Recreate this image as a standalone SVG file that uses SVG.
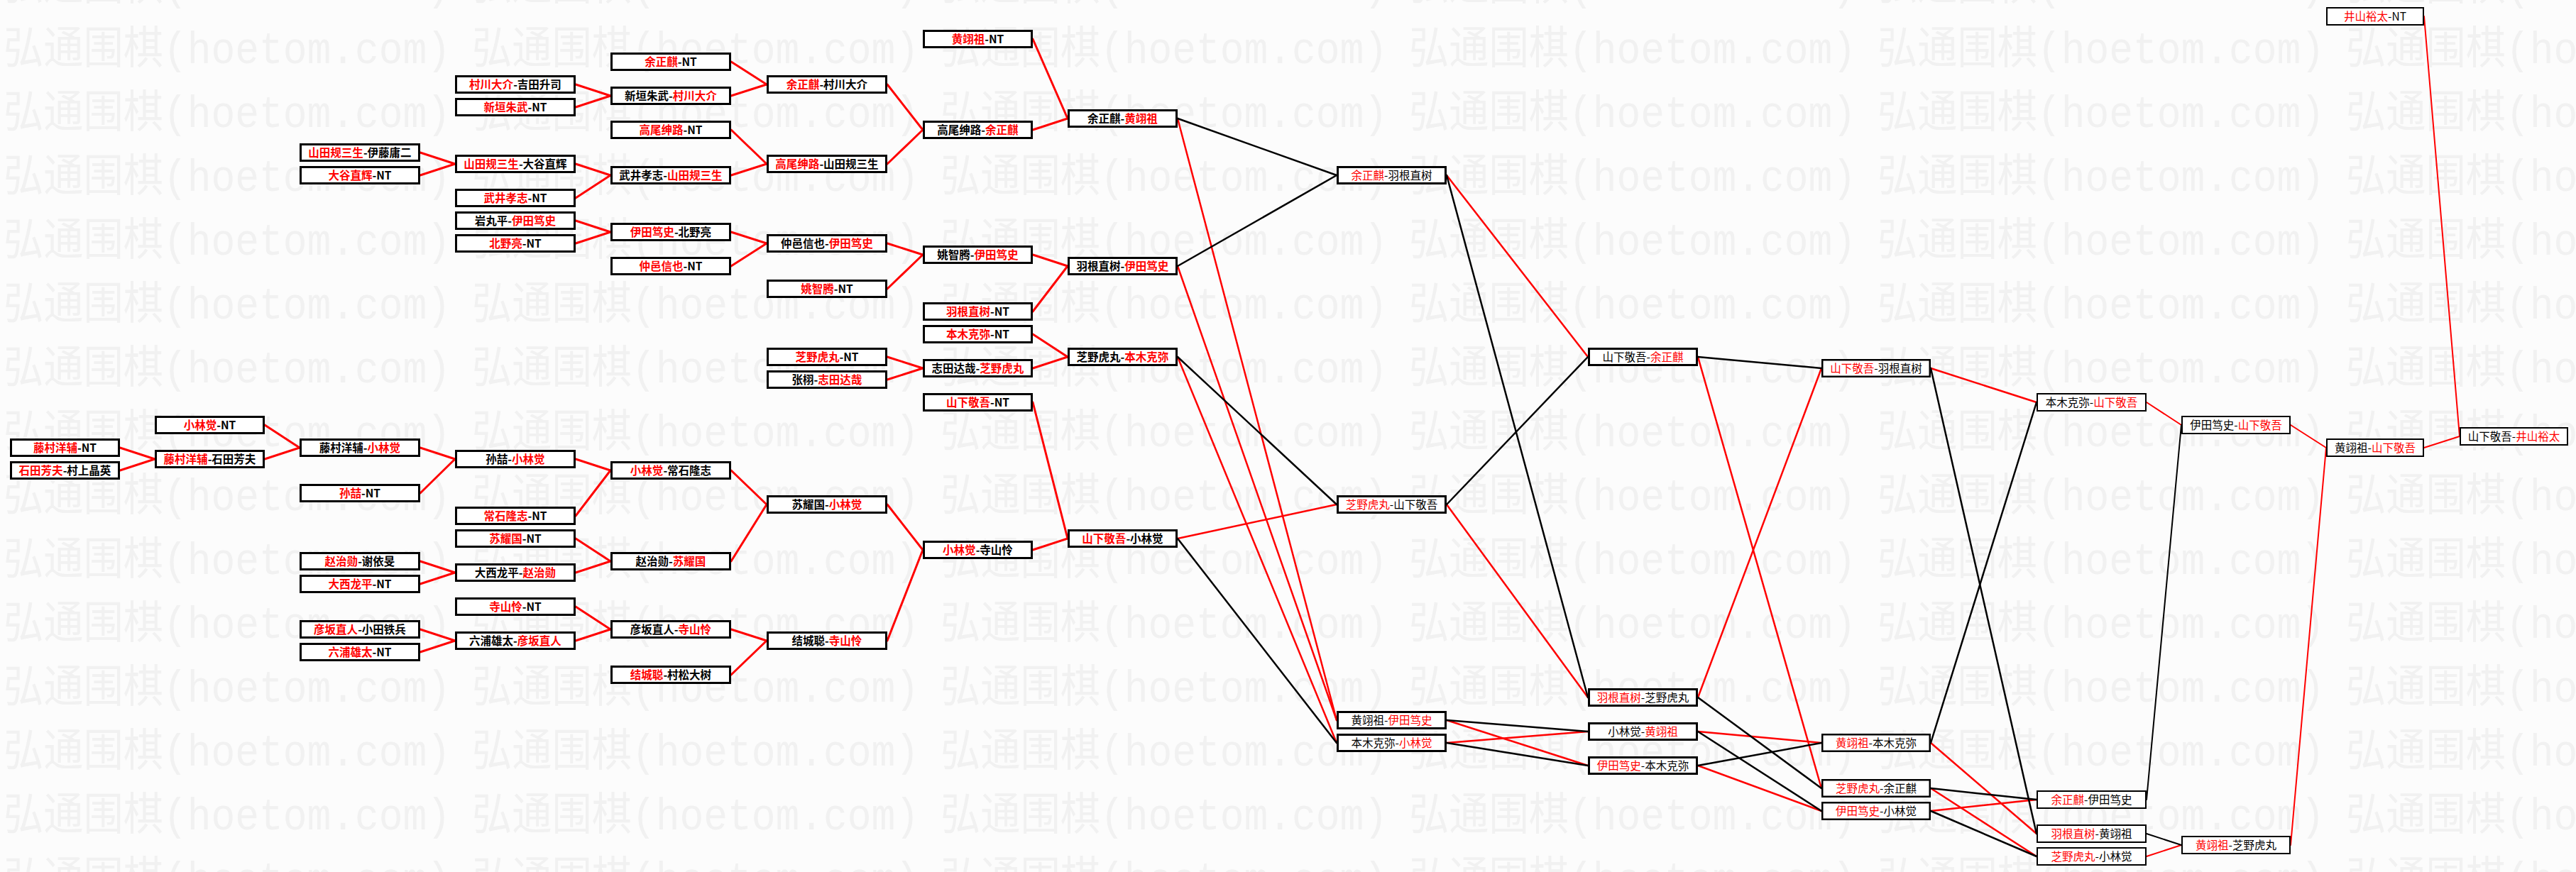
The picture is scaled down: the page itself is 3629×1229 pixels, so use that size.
<svg xmlns="http://www.w3.org/2000/svg" width="3629" height="1229" viewBox="0 0 3629 1229">
<style>
.bg{fill:#fcfcfc}
.wm{font-family:"Liberation Mono","Noto Sans CJK SC",monospace;font-size:63px;fill:#f1f1f1}
.n rect{fill:#fff;stroke:#000;stroke-width:3}
.n.m rect{stroke-width:2.5}
.n.s rect{stroke-width:2}
.n text{font-family:"Noto Sans CJK SC",sans-serif;font-size:15.5px;text-anchor:middle;fill:#000}
.n.b text{font-weight:bold}
.r{fill:#f00}
.c line{fill:none;stroke-linecap:round}
.cr line{stroke:#f00}
.ck line{stroke:#000}
.w3 line{stroke-width:3}
.w25 line{stroke-width:2.5}
.w2 line{stroke-width:2}
</style>
<defs>
<pattern id="wmp" patternUnits="userSpaceOnUse" x="5" y="20" width="660" height="90">
<text class="wm" x="0" y="69" textLength="630" lengthAdjust="spacingAndGlyphs">弘通围棋(hoetom.com)</text>
</pattern>
</defs>
<rect class="bg" x="0" y="0" width="3629" height="1229"/>
<rect x="0" y="0" width="3629" height="1229" fill="url(#wmp)"/>

<g id="connectors" class="c">
<g class="cr w3">
<line x1="169" y1="631" x2="218" y2="647"/>
<line x1="169" y1="663" x2="218" y2="647"/>
<line x1="373" y1="599" x2="422" y2="631"/>
<line x1="373" y1="647" x2="422" y2="631"/>
<line x1="592" y1="631" x2="641" y2="647"/>
<line x1="592" y1="695" x2="641" y2="647"/>
<line x1="811" y1="647" x2="860" y2="663"/>
<line x1="811" y1="727" x2="860" y2="663"/>
<line x1="1030" y1="663" x2="1080" y2="711"/>
<line x1="811" y1="759" x2="860" y2="791"/>
<line x1="592" y1="791" x2="641" y2="807"/>
<line x1="592" y1="823" x2="641" y2="807"/>
<line x1="811" y1="807" x2="860" y2="791"/>
<line x1="1030" y1="791" x2="1080" y2="711"/>
<line x1="811" y1="855" x2="860" y2="887"/>
<line x1="592" y1="887" x2="641" y2="903"/>
<line x1="592" y1="919" x2="641" y2="903"/>
<line x1="811" y1="903" x2="860" y2="887"/>
<line x1="1030" y1="887" x2="1080" y2="903"/>
<line x1="1030" y1="951" x2="1080" y2="903"/>
<line x1="1250" y1="711" x2="1300" y2="775"/>
<line x1="1250" y1="903" x2="1300" y2="775"/>
<line x1="1455" y1="775" x2="1504" y2="759"/>
<line x1="1455" y1="567" x2="1504" y2="759"/>
<line x1="811" y1="119" x2="860" y2="135"/>
<line x1="811" y1="151" x2="860" y2="135"/>
<line x1="1030" y1="87" x2="1080" y2="119"/>
<line x1="1030" y1="135" x2="1080" y2="119"/>
<line x1="592" y1="215" x2="641" y2="231"/>
<line x1="592" y1="247" x2="641" y2="231"/>
<line x1="811" y1="231" x2="860" y2="247"/>
<line x1="811" y1="279" x2="860" y2="247"/>
<line x1="1030" y1="183" x2="1080" y2="231"/>
<line x1="1030" y1="247" x2="1080" y2="231"/>
<line x1="1250" y1="119" x2="1300" y2="183"/>
<line x1="1250" y1="231" x2="1300" y2="183"/>
<line x1="1455" y1="55" x2="1504" y2="167"/>
<line x1="1455" y1="183" x2="1504" y2="167"/>
<line x1="811" y1="311" x2="860" y2="327"/>
<line x1="811" y1="343" x2="860" y2="327"/>
<line x1="1030" y1="327" x2="1080" y2="343"/>
<line x1="1030" y1="375" x2="1080" y2="343"/>
<line x1="1250" y1="343" x2="1300" y2="359"/>
<line x1="1250" y1="407" x2="1300" y2="359"/>
<line x1="1455" y1="359" x2="1504" y2="375"/>
<line x1="1455" y1="439" x2="1504" y2="375"/>
<line x1="1250" y1="503" x2="1300" y2="519"/>
<line x1="1250" y1="535" x2="1300" y2="519"/>
<line x1="1455" y1="471" x2="1504" y2="503"/>
<line x1="1455" y1="519" x2="1504" y2="503"/>
</g>
<g class="cr w25">
<line x1="1659" y1="167" x2="1883" y2="1015"/>
<line x1="1659" y1="375" x2="1883" y2="1015"/>
<line x1="1659" y1="503" x2="1883" y2="1047"/>
<line x1="1659" y1="759" x2="1883" y2="711"/>
<line x1="2038" y1="247" x2="2237" y2="503"/>
<line x1="2038" y1="711" x2="2237" y2="983"/>
<line x1="2038" y1="1015" x2="2237" y2="1079"/>
<line x1="2038" y1="1047" x2="2237" y2="1031"/>
<line x1="2392" y1="503" x2="2566" y2="1111"/>
<line x1="2392" y1="983" x2="2566" y2="519"/>
<line x1="2392" y1="1031" x2="2566" y2="1047"/>
<line x1="2392" y1="1079" x2="2566" y2="1143"/>
<line x1="2720" y1="519" x2="2869" y2="567"/>
<line x1="2720" y1="1047" x2="2869" y2="1175"/>
<line x1="2720" y1="1111" x2="2869" y2="1207"/>
<line x1="2720" y1="1143" x2="2869" y2="1127"/>
</g>
<g class="ck w25">
<line x1="1659" y1="167" x2="1883" y2="247"/>
<line x1="1659" y1="375" x2="1883" y2="247"/>
<line x1="1659" y1="503" x2="1883" y2="711"/>
<line x1="1659" y1="759" x2="1883" y2="1047"/>
<line x1="2038" y1="247" x2="2237" y2="983"/>
<line x1="2038" y1="711" x2="2237" y2="503"/>
<line x1="2038" y1="1015" x2="2237" y2="1031"/>
<line x1="2038" y1="1047" x2="2237" y2="1079"/>
<line x1="2392" y1="503" x2="2566" y2="519"/>
<line x1="2392" y1="983" x2="2566" y2="1111"/>
<line x1="2392" y1="1031" x2="2566" y2="1143"/>
<line x1="2392" y1="1079" x2="2566" y2="1047"/>
<line x1="2720" y1="519" x2="2869" y2="1175"/>
<line x1="2720" y1="1047" x2="2869" y2="567"/>
<line x1="2720" y1="1111" x2="2869" y2="1127"/>
<line x1="2720" y1="1143" x2="2869" y2="1207"/>
</g>
<g class="cr w2">
<line x1="3024" y1="567" x2="3073" y2="599"/>
<line x1="3024" y1="1207" x2="3073" y2="1191"/>
<line x1="3227" y1="599" x2="3277" y2="631"/>
<line x1="3227" y1="1191" x2="3277" y2="631"/>
<line x1="3415" y1="631" x2="3465" y2="615"/>
<line x1="3415" y1="23" x2="3465" y2="615"/>
</g>
<g class="ck w2">
<line x1="3024" y1="1127" x2="3073" y2="599"/>
<line x1="3024" y1="1175" x2="3073" y2="1191"/>
</g>
</g>

<!-- Column A -->
<g id="a1" class="n b"><rect x="15.5" y="619.5" width="152" height="23"/><text x="91.5" y="637"><tspan class="r">藤村洋辅</tspan>-NT</text></g>
<g id="a2" class="n b"><rect x="15.5" y="651.5" width="152" height="23"/><text x="91.5" y="669"><tspan class="r">石田芳夫</tspan>-村上晶英</text></g>
<!-- Column A2 -->
<g id="a3" class="n b"><rect x="219.5" y="587.5" width="152" height="23"/><text x="295.5" y="605"><tspan class="r">小林觉</tspan>-NT</text></g>
<g id="a4" class="n b"><rect x="219.5" y="635.5" width="152" height="23"/><text x="295.5" y="653"><tspan class="r">藤村洋辅</tspan>-石田芳夫</text></g>
<!-- Column B -->
<g id="b1" class="n b"><rect x="423.5" y="203.5" width="167" height="23"/><text x="507" y="221"><tspan class="r">山田规三生</tspan>-伊藤庸二</text></g>
<g id="b2" class="n b"><rect x="423.5" y="235.5" width="167" height="23"/><text x="507" y="253"><tspan class="r">大谷直辉</tspan>-NT</text></g>
<g id="b3" class="n b"><rect x="423.5" y="619.5" width="167" height="23"/><text x="507" y="637">藤村洋辅-<tspan class="r">小林觉</tspan></text></g>
<g id="b4" class="n b"><rect x="423.5" y="683.5" width="167" height="23"/><text x="507" y="701"><tspan class="r">孙喆</tspan>-NT</text></g>
<g id="b5" class="n b"><rect x="423.5" y="779.5" width="167" height="23"/><text x="507" y="797"><tspan class="r">赵治勋</tspan>-谢依旻</text></g>
<g id="b6" class="n b"><rect x="423.5" y="811.5" width="167" height="23"/><text x="507" y="829"><tspan class="r">大西龙平</tspan>-NT</text></g>
<g id="b7" class="n b"><rect x="423.5" y="875.5" width="167" height="23"/><text x="507" y="893"><tspan class="r">彦坂直人</tspan>-小田铁兵</text></g>
<g id="b8" class="n b"><rect x="423.5" y="907.5" width="167" height="23"/><text x="507" y="925"><tspan class="r">六浦雄太</tspan>-NT</text></g>
<!-- Column C -->
<g id="c1" class="n b"><rect x="642.5" y="107.5" width="167" height="23"/><text x="726" y="125"><tspan class="r">村川大介</tspan>-吉田升司</text></g>
<g id="c2" class="n b"><rect x="642.5" y="139.5" width="167" height="23"/><text x="726" y="157"><tspan class="r">新垣朱武</tspan>-NT</text></g>
<g id="c3" class="n b"><rect x="642.5" y="219.5" width="167" height="23"/><text x="726" y="237"><tspan class="r">山田规三生</tspan>-大谷直辉</text></g>
<g id="c4" class="n b"><rect x="642.5" y="267.5" width="167" height="23"/><text x="726" y="285"><tspan class="r">武井孝志</tspan>-NT</text></g>
<g id="c5" class="n b"><rect x="642.5" y="299.5" width="167" height="23"/><text x="726" y="317">岩丸平-<tspan class="r">伊田笃史</tspan></text></g>
<g id="c6" class="n b"><rect x="642.5" y="331.5" width="167" height="23"/><text x="726" y="349"><tspan class="r">北野亮</tspan>-NT</text></g>
<g id="c7" class="n b"><rect x="642.5" y="635.5" width="167" height="23"/><text x="726" y="653">孙喆-<tspan class="r">小林觉</tspan></text></g>
<g id="c8" class="n b"><rect x="642.5" y="715.5" width="167" height="23"/><text x="726" y="733"><tspan class="r">常石隆志</tspan>-NT</text></g>
<g id="c9" class="n b"><rect x="642.5" y="747.5" width="167" height="23"/><text x="726" y="765"><tspan class="r">苏耀国</tspan>-NT</text></g>
<g id="c10" class="n b"><rect x="642.5" y="795.5" width="167" height="23"/><text x="726" y="813">大西龙平-<tspan class="r">赵治勋</tspan></text></g>
<g id="c11" class="n b"><rect x="642.5" y="843.5" width="167" height="23"/><text x="726" y="861"><tspan class="r">寺山怜</tspan>-NT</text></g>
<g id="c12" class="n b"><rect x="642.5" y="891.5" width="167" height="23"/><text x="726" y="909">六浦雄太-<tspan class="r">彦坂直人</tspan></text></g>
<!-- Column D -->
<g id="d1" class="n b"><rect x="861.5" y="75.5" width="167" height="23"/><text x="945" y="93"><tspan class="r">余正麒</tspan>-NT</text></g>
<g id="d2" class="n b"><rect x="861.5" y="123.5" width="167" height="23"/><text x="945" y="141">新垣朱武-<tspan class="r">村川大介</tspan></text></g>
<g id="d3" class="n b"><rect x="861.5" y="171.5" width="167" height="23"/><text x="945" y="189"><tspan class="r">高尾绅路</tspan>-NT</text></g>
<g id="d4" class="n b"><rect x="861.5" y="235.5" width="167" height="23"/><text x="945" y="253">武井孝志-<tspan class="r">山田规三生</tspan></text></g>
<g id="d5" class="n b"><rect x="861.5" y="315.5" width="167" height="23"/><text x="945" y="333"><tspan class="r">伊田笃史</tspan>-北野亮</text></g>
<g id="d6" class="n b"><rect x="861.5" y="363.5" width="167" height="23"/><text x="945" y="381"><tspan class="r">仲邑信也</tspan>-NT</text></g>
<g id="d7" class="n b"><rect x="861.5" y="651.5" width="167" height="23"/><text x="945" y="669"><tspan class="r">小林觉</tspan>-常石隆志</text></g>
<g id="d8" class="n b"><rect x="861.5" y="779.5" width="167" height="23"/><text x="945" y="797">赵治勋-<tspan class="r">苏耀国</tspan></text></g>
<g id="d9" class="n b"><rect x="861.5" y="875.5" width="167" height="23"/><text x="945" y="893">彦坂直人-<tspan class="r">寺山怜</tspan></text></g>
<g id="d10" class="n b"><rect x="861.5" y="939.5" width="167" height="23"/><text x="945" y="957"><tspan class="r">结城聪</tspan>-村松大树</text></g>
<!-- Column E -->
<g id="e1" class="n b"><rect x="1081.5" y="107.5" width="167" height="23"/><text x="1165" y="125"><tspan class="r">余正麒</tspan>-村川大介</text></g>
<g id="e2" class="n b"><rect x="1081.5" y="219.5" width="167" height="23"/><text x="1165" y="237"><tspan class="r">高尾绅路</tspan>-山田规三生</text></g>
<g id="e3" class="n b"><rect x="1081.5" y="331.5" width="167" height="23"/><text x="1165" y="349">仲邑信也-<tspan class="r">伊田笃史</tspan></text></g>
<g id="e4" class="n b"><rect x="1081.5" y="395.5" width="167" height="23"/><text x="1165" y="413"><tspan class="r">姚智腾</tspan>-NT</text></g>
<g id="e5" class="n b"><rect x="1081.5" y="491.5" width="167" height="23"/><text x="1165" y="509"><tspan class="r">芝野虎丸</tspan>-NT</text></g>
<g id="e6" class="n b"><rect x="1081.5" y="523.5" width="167" height="23"/><text x="1165" y="541">张栩-<tspan class="r">志田达哉</tspan></text></g>
<g id="e7" class="n b"><rect x="1081.5" y="699.5" width="167" height="23"/><text x="1165" y="717">苏耀国-<tspan class="r">小林觉</tspan></text></g>
<g id="e8" class="n b"><rect x="1081.5" y="891.5" width="167" height="23"/><text x="1165" y="909">结城聪-<tspan class="r">寺山怜</tspan></text></g>
<!-- Column F -->
<g id="f1" class="n b"><rect x="1301.5" y="43.5" width="152" height="23"/><text x="1377.5" y="61"><tspan class="r">黄翊祖</tspan>-NT</text></g>
<g id="f2" class="n b"><rect x="1301.5" y="171.5" width="152" height="23"/><text x="1377.5" y="189">高尾绅路-<tspan class="r">余正麒</tspan></text></g>
<g id="f3" class="n b"><rect x="1301.5" y="347.5" width="152" height="23"/><text x="1377.5" y="365">姚智腾-<tspan class="r">伊田笃史</tspan></text></g>
<g id="f4" class="n b"><rect x="1301.5" y="427.5" width="152" height="23"/><text x="1377.5" y="445"><tspan class="r">羽根直树</tspan>-NT</text></g>
<g id="f5" class="n b"><rect x="1301.5" y="459.5" width="152" height="23"/><text x="1377.5" y="477"><tspan class="r">本木克弥</tspan>-NT</text></g>
<g id="f6" class="n b"><rect x="1301.5" y="507.5" width="152" height="23"/><text x="1377.5" y="525">志田达哉-<tspan class="r">芝野虎丸</tspan></text></g>
<g id="f7" class="n b"><rect x="1301.5" y="555.5" width="152" height="23"/><text x="1377.5" y="573"><tspan class="r">山下敬吾</tspan>-NT</text></g>
<g id="f8" class="n b"><rect x="1301.5" y="763.5" width="152" height="23"/><text x="1377.5" y="781"><tspan class="r">小林觉</tspan>-寺山怜</text></g>
<!-- Column G -->
<g id="g1" class="n b"><rect x="1505.5" y="155.5" width="152" height="23"/><text x="1581.5" y="173">余正麒-<tspan class="r">黄翊祖</tspan></text></g>
<g id="g2" class="n b"><rect x="1505.5" y="363.5" width="152" height="23"/><text x="1581.5" y="381">羽根直树-<tspan class="r">伊田笃史</tspan></text></g>
<g id="g3" class="n b"><rect x="1505.5" y="491.5" width="152" height="23"/><text x="1581.5" y="509">芝野虎丸-<tspan class="r">本木克弥</tspan></text></g>
<g id="g4" class="n b"><rect x="1505.5" y="747.5" width="152" height="23"/><text x="1581.5" y="765"><tspan class="r">山下敬吾</tspan>-小林觉</text></g>
<!-- Column H -->
<g id="h1" class="n"><rect x="1884.5" y="235.5" width="152" height="23"/><text x="1960.5" y="253"><tspan class="r">余正麒</tspan>-羽根直树</text></g>
<g id="h2" class="n"><rect x="1884.5" y="699.5" width="152" height="23"/><text x="1960.5" y="717"><tspan class="r">芝野虎丸</tspan>-山下敬吾</text></g>
<g id="h3" class="n"><rect x="1884.5" y="1003.5" width="152" height="23"/><text x="1960.5" y="1021">黄翊祖-<tspan class="r">伊田笃史</tspan></text></g>
<g id="h4" class="n"><rect x="1884.5" y="1035.5" width="152" height="23"/><text x="1960.5" y="1053">本木克弥-<tspan class="r">小林觉</tspan></text></g>
<!-- Column I -->
<g id="i1" class="n"><rect x="2238.5" y="491.5" width="152" height="23"/><text x="2314.5" y="509">山下敬吾-<tspan class="r">余正麒</tspan></text></g>
<g id="i2" class="n"><rect x="2238.5" y="971.5" width="152" height="23"/><text x="2314.5" y="989"><tspan class="r">羽根直树</tspan>-芝野虎丸</text></g>
<g id="i3" class="n"><rect x="2238.5" y="1019.5" width="152" height="23"/><text x="2314.5" y="1037">小林觉-<tspan class="r">黄翊祖</tspan></text></g>
<g id="i4" class="n"><rect x="2238.5" y="1067.5" width="152" height="23"/><text x="2314.5" y="1085"><tspan class="r">伊田笃史</tspan>-本木克弥</text></g>
<!-- Column J -->
<g id="j1" class="n m"><rect x="2567.25" y="507.25" width="151.5" height="23.5"/><text x="2643" y="525"><tspan class="r">山下敬吾</tspan>-羽根直树</text></g>
<g id="j2" class="n m"><rect x="2567.25" y="1035.25" width="151.5" height="23.5"/><text x="2643" y="1053"><tspan class="r">黄翊祖</tspan>-本木克弥</text></g>
<g id="j3" class="n m"><rect x="2567.25" y="1099.25" width="151.5" height="23.5"/><text x="2643" y="1117"><tspan class="r">芝野虎丸</tspan>-余正麒</text></g>
<g id="j4" class="n m"><rect x="2567.25" y="1131.25" width="151.5" height="23.5"/><text x="2643" y="1149"><tspan class="r">伊田笃史</tspan>-小林觉</text></g>
<!-- Column K -->
<g id="k1" class="n s"><rect x="2870" y="555" width="153" height="24"/><text x="2946.5" y="572.5">本木克弥-<tspan class="r">山下敬吾</tspan></text></g>
<g id="k2" class="n s"><rect x="2870" y="1115" width="153" height="24"/><text x="2946.5" y="1132.5"><tspan class="r">余正麒</tspan>-伊田笃史</text></g>
<g id="k3" class="n s"><rect x="2870" y="1163" width="153" height="24"/><text x="2946.5" y="1180.5"><tspan class="r">羽根直树</tspan>-黄翊祖</text></g>
<g id="k4" class="n s"><rect x="2870" y="1195" width="153" height="24"/><text x="2946.5" y="1212.5"><tspan class="r">芝野虎丸</tspan>-小林觉</text></g>
<!-- Column L -->
<g id="l1" class="n s"><rect x="3074" y="587" width="152" height="24"/><text x="3150" y="604.5">伊田笃史-<tspan class="r">山下敬吾</tspan></text></g>
<g id="l2" class="n s"><rect x="3074" y="1179" width="152" height="24"/><text x="3150" y="1196.5"><tspan class="r">黄翊祖</tspan>-芝野虎丸</text></g>
<!-- Column M -->
<g id="m1" class="n s"><rect x="3278" y="11" width="136" height="24"/><text x="3346" y="28.5"><tspan class="r">井山裕太</tspan>-NT</text></g>
<g id="m2" class="n s"><rect x="3278" y="619" width="136" height="24"/><text x="3346" y="636.5">黄翊祖-<tspan class="r">山下敬吾</tspan></text></g>
<!-- Column N -->
<g id="n1" class="n s"><rect x="3466" y="603" width="151" height="24"/><text x="3541.5" y="620.5">山下敬吾-<tspan class="r">井山裕太</tspan></text></g>
</svg>
